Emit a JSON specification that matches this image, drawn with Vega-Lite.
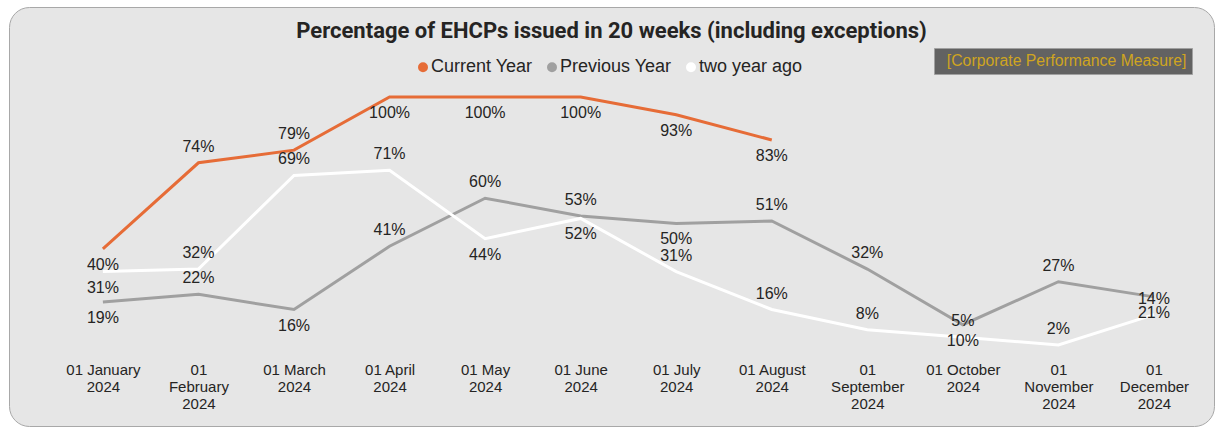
{
  "$schema": "https://vega.github.io/schema/vega-lite/v6.json",
  "width": 1205,
  "height": 419,
  "autosize": {"type": "none"},
  "padding": {"left": 9, "top": 7, "right": 5, "bottom": 3},
  "background": "#ffffff",
  "view": {"fill": "#e6e6e6", "stroke": "#a8a8a8", "strokeWidth": 1, "cornerRadius": 20},
  "config": {
    "font": "Liberation Sans"
  },
  "title": {
    "text": "Percentage of EHCPs issued in 20 weeks (including exceptions)",
    "font": "Roboto",
    "fontSize": 22,
    "fontWeight": "bold",
    "color": "#252423",
    "anchor": "middle",
    "frame": "group",
    "offset": -36
  },
  "datasets": {
    "series": [
      {"month": "01 January 2024", "series": "Current Year", "value": 0.40},
      {"month": "01 February 2024", "series": "Current Year", "value": 0.74},
      {"month": "01 March 2024", "series": "Current Year", "value": 0.79},
      {"month": "01 April 2024", "series": "Current Year", "value": 1.00},
      {"month": "01 May 2024", "series": "Current Year", "value": 1.00},
      {"month": "01 June 2024", "series": "Current Year", "value": 1.00},
      {"month": "01 July 2024", "series": "Current Year", "value": 0.93},
      {"month": "01 August 2024", "series": "Current Year", "value": 0.83},
      {"month": "01 January 2024", "series": "Previous Year", "value": 0.19},
      {"month": "01 February 2024", "series": "Previous Year", "value": 0.22},
      {"month": "01 March 2024", "series": "Previous Year", "value": 0.16},
      {"month": "01 April 2024", "series": "Previous Year", "value": 0.41},
      {"month": "01 May 2024", "series": "Previous Year", "value": 0.60},
      {"month": "01 June 2024", "series": "Previous Year", "value": 0.53},
      {"month": "01 July 2024", "series": "Previous Year", "value": 0.50},
      {"month": "01 August 2024", "series": "Previous Year", "value": 0.51},
      {"month": "01 September 2024", "series": "Previous Year", "value": 0.32},
      {"month": "01 October 2024", "series": "Previous Year", "value": 0.10},
      {"month": "01 November 2024", "series": "Previous Year", "value": 0.27},
      {"month": "01 December 2024", "series": "Previous Year", "value": 0.21},
      {"month": "01 January 2024", "series": "two year ago", "value": 0.31},
      {"month": "01 February 2024", "series": "two year ago", "value": 0.32},
      {"month": "01 March 2024", "series": "two year ago", "value": 0.69},
      {"month": "01 April 2024", "series": "two year ago", "value": 0.71},
      {"month": "01 May 2024", "series": "two year ago", "value": 0.44},
      {"month": "01 June 2024", "series": "two year ago", "value": 0.52},
      {"month": "01 July 2024", "series": "two year ago", "value": 0.31},
      {"month": "01 August 2024", "series": "two year ago", "value": 0.16},
      {"month": "01 September 2024", "series": "two year ago", "value": 0.08},
      {"month": "01 October 2024", "series": "two year ago", "value": 0.05},
      {"month": "01 November 2024", "series": "two year ago", "value": 0.02},
      {"month": "01 December 2024", "series": "two year ago", "value": 0.14}
    ],
    "note": [{"note": "[Corporate Performance Measure]"}]
  },
  "encoding": {
    "x": {
      "field": "month",
      "type": "ordinal",
      "sort": ["01 January 2024", "01 February 2024", "01 March 2024", "01 April 2024", "01 May 2024", "01 June 2024", "01 July 2024", "01 August 2024", "01 September 2024", "01 October 2024", "01 November 2024", "01 December 2024"],
      "scale": {"type": "point", "padding": 0.8055, "align": 0.61},
      "axis": {
        "title": null,
        "domain": false,
        "ticks": false,
        "grid": false,
        "labelAngle": 0,
        "labelFont": "Liberation Sans",
        "labelFontSize": 15,
        "labelColor": "#252423",
        "labelLineHeight": 17,
        "labelPadding": 0,
        "labelBaseline": "top",
        "labelOverlap": false,
        "labelLimit": 300,
        "offset": -64,
        "labelExpr": "length(datum.label) >= 16 ? split(datum.label, ' ') : [substring(datum.label, 0, length(datum.label) - 5), substring(datum.label, length(datum.label) - 4)]"
      }
    },
    "y": {
      "field": "value",
      "type": "quantitative",
      "scale": {"domain": [-0.3004, 1.3557], "nice": false, "zero": false},
      "axis": null
    }
  },
  "layer": [
    {
      "data": {"name": "series"},
      "mark": {"type": "line", "strokeWidth": 3},
      "encoding": {
        "color": {
          "field": "series",
          "type": "nominal",
          "scale": {"domain": ["Current Year", "Previous Year", "two year ago"], "range": ["#e66c37", "#a0a0a0", "#ffffff"]},
          "legend": {
            "orient": "none",
            "legendX": 405,
            "legendY": 51,
            "direction": "horizontal",
            "title": null,
            "symbolType": "circle",
            "symbolSize": 25,
            "symbolStrokeWidth": 5,
            "symbolOpacity": 1,
            "labelFont": "Liberation Sans",
            "labelFontSize": 18,
            "labelColor": "#252423",
            "labelOffset": -1,
            "columnPadding": 6,
            "padding": 0
          }
        }
      }
    },
    {
      "data": {"name": "series"},
      "transform": [
        {"filter": "(datum.series == 'Current Year' && indexof(['01 January 2024','01 April 2024','01 May 2024','01 June 2024','01 July 2024','01 August 2024'], datum.month) >= 0) || (datum.series == 'Previous Year' && indexof(['01 January 2024','01 March 2024','01 July 2024','01 October 2024','01 December 2024'], datum.month) >= 0) || (datum.series == 'two year ago' && indexof(['01 January 2024','01 May 2024','01 June 2024'], datum.month) >= 0)"}
      ],
      "mark": {"type": "text", "dy": 16, "fontSize": 16, "font": "Liberation Sans", "color": "#252423", "baseline": "middle"},
      "encoding": {
        "text": {"field": "value", "type": "quantitative", "format": ".0%"}
      }
    },
    {
      "data": {"name": "series"},
      "transform": [
        {"filter": "!((datum.series == 'Current Year' && indexof(['01 January 2024','01 April 2024','01 May 2024','01 June 2024','01 July 2024','01 August 2024'], datum.month) >= 0) || (datum.series == 'Previous Year' && indexof(['01 January 2024','01 March 2024','01 July 2024','01 October 2024','01 December 2024'], datum.month) >= 0) || (datum.series == 'two year ago' && indexof(['01 January 2024','01 May 2024','01 June 2024'], datum.month) >= 0))"}
      ],
      "mark": {"type": "text", "dy": -16, "fontSize": 16, "font": "Liberation Sans", "color": "#252423", "baseline": "middle"},
      "encoding": {
        "text": {"field": "value", "type": "quantitative", "format": ".0%"}
      }
    },
    {
      "data": {"name": "note"},
      "mark": {"type": "point", "opacity": 0, "size": 0},
      "encoding": {
        "x": null,
        "y": null,
        "shape": {
          "field": "note",
          "type": "nominal",
          "legend": {
            "orient": "none",
            "legendX": 925,
            "legendY": 41,
            "title": null,
            "padding": 5,
            "fillColor": "#626262",
            "strokeColor": "#a0a0a0",
            "symbolSize": 0,
            "symbolOpacity": 0,
            "labelOffset": -8,
            "labelFont": "Liberation Sans",
            "labelFontSize": 15.8,
            "labelColor": "#cfa51f",
            "labelLimit": 400
          }
        }
      }
    }
  ]
}
